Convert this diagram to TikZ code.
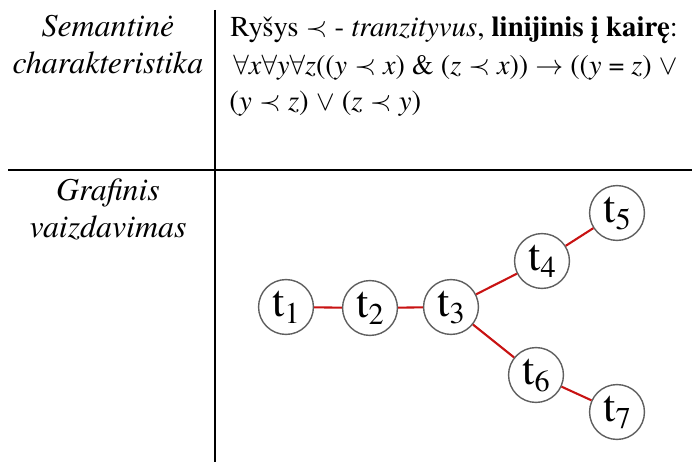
\documentclass[tikz,border=0pt]{standalone}
\usepackage{fontspec}
\setmainfont{TeX Gyre Termes}
\usepackage{tikz}
\usetikzlibrary{positioning}
\definecolor{ryssred}{RGB}{200,18,18}
\definecolor{ringgray}{RGB}{95,95,95}
\newcommand{\tlab}[1]{{\fontsize{19}{19}\selectfont t\raisebox{-0.35ex}{\fontsize{13}{13}\selectfont #1}}}

\begin{document}
\begin{tikzpicture}[x=0.43pt, y=-0.43pt,
        lefttxt/.style={anchor=base, font=\fontsize{13.7}{16}\selectfont\itshape, inner sep=0pt},
        righttxt/.style={anchor=base west, font=\fontsize{12.4}{16}\selectfont, inner sep=0pt},
        state/.style={circle, draw=ringgray, line width=0.6pt, minimum size=23.6pt, inner sep=0pt, fill=white},
        edge/.style={draw=ryssred, line width=0.9pt}]

        \useasboundingbox (0,0) rectangle (692,462);

        % Lentelės linijos
        \draw [line width=0.9pt] (215,10) -- (215,462);
        \draw [line width=0.6pt] (8,170) -- (692,170);

        % Kairysis stulpelis
        \node (sem1) [lefttxt] at (108,37) {Semantinė};
        \node (sem2) [lefttxt] at (108,74) {charakteristika};
        \node (gra1) [lefttxt] at (108,201) {Grafinis};
        \node (gra2) [lefttxt] at (108,238) {vaizdavimas};

        % Dešinysis stulpelis
        \node (line1) [righttxt] at (230,37) {Ryšys $\prec$ - \textit{tranzityvus}, \textbf{linijinis į kairę}:};
        \node (line2) [righttxt, font=\fontsize{12.1}{16}\selectfont] at (233,75) {$\forall$\textit{x}$\forall$\textit{y}$\forall$\textit{z}((\textit{y} $\prec$ \textit{x}) \& (\textit{z} $\prec$ \textit{x})) $\rightarrow$ ((\textit{y} = \textit{z}) $\vee$};
        \node (line3) [righttxt] at (229,111) {(\textit{y} $\prec$ \textit{z}) $\vee$ (\textit{z} $\prec$ \textit{y})};

        % Grafas
        \node (t1) [state] at (286,307) {\tlab{1}};
        \node (t2) [state] at (370,308) {\tlab{2}};
        \node (t3) [state] at (451,307) {\tlab{3}};
        \node (t4) [state] at (542,261) {\tlab{4}};
        \node (t5) [state] at (617,213) {\tlab{5}};
        \node (t6) [state] at (536,375) {\tlab{6}};
        \node (t7) [state] at (617,412) {\tlab{7}};

        \draw [edge] (t1) -- (t2);
        \draw [edge] (t2) -- (t3);
        \draw [edge] (t3) -- (t4);
        \draw [edge] (t4) -- (t5);
        \draw [edge] (t3) -- (t6);
        \draw [edge] (t6) -- (t7);

\end{tikzpicture}
\end{document}
